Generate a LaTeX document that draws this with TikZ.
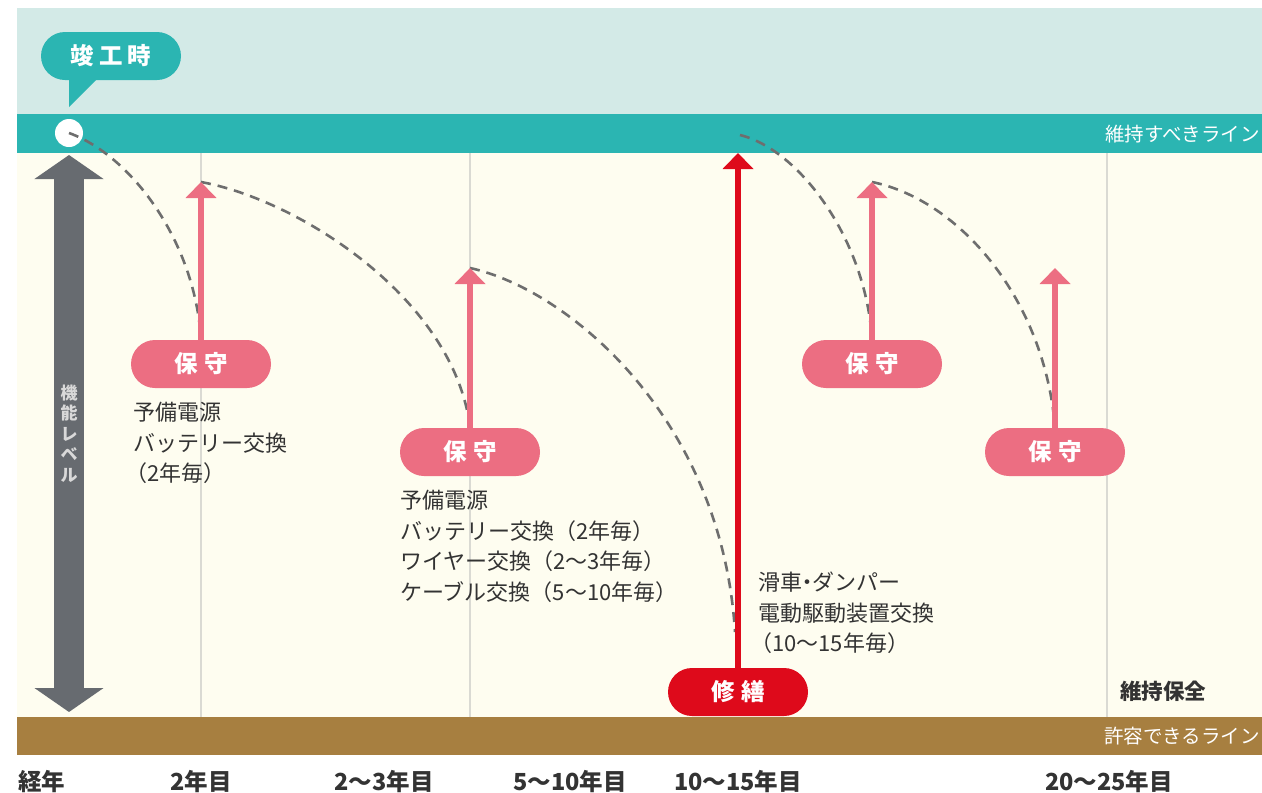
\documentclass[tikz,border=0pt]{standalone}
\usepackage{fontspec}
\setmainfont{Noto Sans CJK JP}
\usetikzlibrary{arrows.meta}
\definecolor{skyband}{HTML}{D3EAE7}
\definecolor{tealband}{HTML}{2BB5B2}
\definecolor{creamfield}{HTML}{FEFDF0}
\definecolor{brownband}{HTML}{A77F40}
\definecolor{hosyupink}{HTML}{EC6E82}
\definecolor{shuzenred}{HTML}{DE0A1B}
\definecolor{levelgray}{HTML}{676B70}
\definecolor{curvegray}{HTML}{6E6E6E}
\definecolor{gridgray}{HTML}{DADAD3}
\definecolor{inktext}{HTML}{333333}

\begin{document}
\begin{tikzpicture}
            [x=1pt, y=-1pt,
             pill/.style={shape=rectangle, rounded corners=24pt, minimum width=140pt, minimum height=48pt, inner sep=0pt, text=white, font=\fontsize{23.5}{23.5}\selectfont\bfseries},
             note/.style={anchor=north west, align=left, inner sep=0pt, text=inktext, font=\fontsize{22}{30.5}\selectfont},
             year/.style={anchor=base, inner sep=0pt, text=inktext, font=\fontsize{23.5}{23.5}\selectfont\bfseries},
             lineend/.style={anchor=base east, inner sep=0pt, text=white, font=\fontsize{19.5}{19.5}\selectfont},
             decay/.style={draw=curvegray, line width=2.6pt, dash pattern=on 10pt off 7pt},
             lift/.style={draw=hosyupink, line width=6pt, -{Triangle[width=30pt,length=16pt]}}]
            \useasboundingbox (0,0) rectangle (1262,793);
            \fill[skyband] (17,8) rectangle (1262,114);
            \fill[tealband] (17,114) rectangle (1262,153);
            \fill[creamfield] (17,153) rectangle (1262,717);
            \fill[brownband] (17,717) rectangle (1262,755);
            \draw[gridgray, line width=1.2pt] (201,153) -- (201,717);
            \draw[gridgray, line width=1.2pt] (470,153) -- (470,717);
            \draw[gridgray, line width=1.2pt] (1107,153) -- (1107,717);

            \node[lineend] (keepline) at (1260,141) {維持すべきライン};
            \node[lineend] (allowline) at (1260,743) {許容できるライン};

            \node[pill, fill=tealband] (bubble) at (111,56) {竣\hspace{5pt}工\hspace{5pt}時};
            \fill[tealband] (69,79) -- (69,107) -- (97,79) -- cycle;
            \node[shape=circle, fill=white, minimum size=28pt, inner sep=0pt] (start) at (69,133) {};

            \coordinate (lvtop) at (69,155);
            \coordinate (lvbot) at (69,712);
            \draw[levelgray, line width=30pt, {Triangle[width=68pt,length=24pt]}-{Triangle[width=68pt,length=24pt]}] (lvtop) -- (lvbot)
                node[midway, align=center, text=white!85!black, font=\fontsize{17}{20.5}\selectfont\bfseries] (level) {機\\能\\レ\\ベ\\ル};

            \node[pill, fill=hosyupink] (hosyu1) at (201,364) {保\hspace{7pt}守};
            \node[pill, fill=hosyupink] (hosyu2) at (470,452) {保\hspace{7pt}守};
            \node[pill, fill=hosyupink] (hosyu3) at (872,364) {保\hspace{7pt}守};
            \node[pill, fill=hosyupink] (hosyu4) at (1055,452) {保\hspace{7pt}守};
            \node[pill, fill=shuzenred] (shuzen) at (738,692) {修\hspace{7pt}繕};

            \coordinate (tip1) at (201,182);
            \coordinate (tip2) at (470,268);
            \coordinate (tip3) at (872,182);
            \coordinate (tip4) at (1055,268);
            \coordinate (tip0) at (738,153);
            \coordinate (fade3) at (735,632);
            \coordinate (rise4) at (740,135);

            \path[decay] (start.center) .. controls (130,155) and (195,240) .. (hosyu1.north);
            \path[decay] (tip1) .. controls (300,200) and (455,300) .. (hosyu2.north);
            \path[decay] (tip2) .. controls (570,290) and (722,420) .. (fade3);
            \path[decay] (rise4) .. controls (800,150) and (866,240) .. (hosyu3.north);
            \path[decay] (tip3) .. controls (960,200) and (1045,300) .. (hosyu4.north);

            \draw[lift] (hosyu1.north) -- (tip1);
            \draw[lift] (hosyu2.north) -- (tip2);
            \draw[lift] (hosyu3.north) -- (tip3);
            \draw[lift] (hosyu4.north) -- (tip4);
            \draw[shuzenred, line width=6pt, -{Triangle[width=30pt,length=16pt]}] (shuzen.north) -- (tip0);

            \node[note] (note1) at (133,402) {予備電源\\バッテリー交換\\\kern-8pt（2年毎）};
            \node[note] (note2) at (400,490) {予備電源\\バッテリー交換（2年毎）\\ワイヤー交換（2〜3年毎）\\ケーブル交換（5〜10年毎）};
            \node[note] (note3) at (758,572) {滑車\kern-6pt・\kern-6pt ダンパー\\電動駆動装置交換\\\kern-8pt（10〜15年毎）};
            \node[anchor=base, inner sep=0pt, text=inktext, font=\fontsize{21.5}{21.5}\selectfont\bfseries] (upkeep) at (1163,699) {維持保全};

            \node[year, anchor=base west] (age) at (18,790) {経年};
            \node[year] (y2) at (201,790) {2年目};
            \node[year] (y3) at (384,790) {2〜3年目};
            \node[year] (y10) at (570,790) {5〜10年目};
            \node[year] (y15) at (738,790) {10〜15年目};
            \node[year] (y25) at (1109,790) {20〜25年目};
        \end{tikzpicture}
\end{document}
